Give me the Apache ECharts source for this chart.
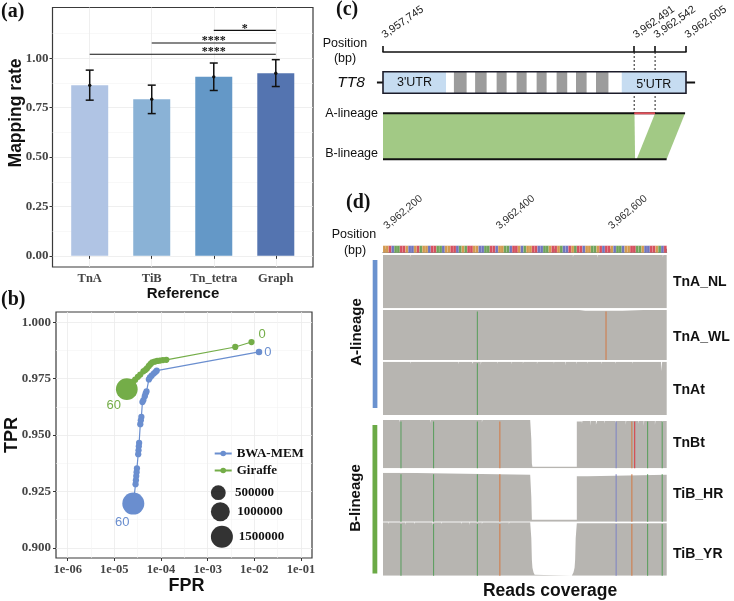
<!DOCTYPE html>
<html><head><meta charset="utf-8">
<script src="https://cdn.jsdelivr.net/npm/echarts@6/dist/echarts.min.js"></script>
<style>html,body{margin:0;padding:0;background:#fff}#c{width:734px;height:601px}</style>
</head><body><div id="c"></div>
<script>
// ================= DATA =================
// (a) mapping rate
const refCategories = ['TnA', 'TiB', 'Tn_tetra', 'Graph'];
const mappingMean = [0.863, 0.793, 0.906, 0.924];
const mappingLow  = [0.788, 0.720, 0.837, 0.857];
const mappingHigh = [0.940, 0.864, 0.976, 0.993];
const sigStart  = ['Tn_tetra', 'TiB', 'TnA'];
const sigEnd    = ['Graph', 'Graph', 'Graph'];
const sigY      = [1.141, 1.077, 1.020];
const sigLabel  = ['*', '****', '****'];
const sigLabelX = [3.5, 3.0, 3.0];
const mapYTicks = [0, 0.25, 0.5, 0.75, 1.0];
const mapYMinor = [0.125, 0.375, 0.625, 0.875, 1.125];

// (b) ROC by MAPQ threshold
const bwaFPR = [1.26e-2, 8.1e-5, 7.6e-5, 7.0e-5, 6.3e-5, 5.8e-5, 5.5e-5, 4.9e-5, 4.7e-5, 4.5e-5, 4.2e-5, 4.0e-5,
                3.8e-5, 3.7e-5, 3.6e-5, 3.4e-5, 3.35e-5, 3.3e-5, 3.25e-5, 3.05e-5, 3.0e-5, 2.95e-5, 2.9e-5, 2.85e-5, 2.55e-5];
const bwaTPR = [0.9868, 0.9785, 0.9779, 0.9772, 0.9763, 0.9755, 0.9746, 0.9693, 0.9685, 0.9672, 0.9655, 0.9646,
                0.9580, 0.9565, 0.9548, 0.9465, 0.9450, 0.9432, 0.9415, 0.9352, 0.9335, 0.9318, 0.9300, 0.9282, 0.9196];
const bwaCount = [12000, 8000, 8000, 8000, 8000, 8000, 8000, 8000, 8000, 8000, 8000, 8000,
                  8000, 8000, 8000, 8000, 8000, 8000, 8000, 8000, 8000, 8000, 8000, 8000, 1500000];
const girFPR = [8.7e-3, 3.9e-3, 1.3e-4, 1.1e-4, 9.5e-5, 8.3e-5, 7.3e-5, 6.5e-5, 6.0e-5, 5.5e-5, 5.0e-5, 4.6e-5,
                4.2e-5, 3.6e-5, 3.2e-5, 2.8e-5, 2.5e-5, 2.2e-5, 1.85e-5];
const girTPR = [0.9912, 0.9890, 0.9833, 0.9832, 0.9830, 0.9828, 0.9825, 0.9822, 0.9815, 0.9806, 0.9795, 0.9788,
                0.9782, 0.9768, 0.9758, 0.9745, 0.9735, 0.9722, 0.9703];
const girCount = [8000, 8000, 8000, 8000, 8000, 8000, 8000, 8000, 8000, 8000, 8000, 8000,
                  8000, 8000, 8000, 8000, 8000, 8000, 1450000];
const mapqLabels = ['0', '60'];
const fprTicksLog = [-6, -5, -4, -3, -2, -1];
const fprMinorLog = [-5.5, -4.5, -3.5, -2.5, -1.5];
const tprTicks = [0.900, 0.925, 0.950, 0.975, 1.000];
const tprMinor = [0.9125, 0.9375, 0.9625, 0.9875];
const sizeLegendValues = [500000, 1000000, 1500000];

// (c) TT8 schematic (schematic units 0..100 along the gene)
const cRulerPos = [0, 82.9, 89.8, 100];
const cRulerLabels = ['3,957,745', '3,962,491', '3,962,542', '3,962,605'];
const cGeneFlank = [-2, 103];
const cGeneBody = [0, 100];
const cUtrStart = [0, 78.8];
const cUtrEnd = [20.8, 100];
const cUtrNames = ["3'UTR", "5'UTR"];
const cExonStart = [23.4, 30.4, 37.5, 44.1, 50.7, 57.3, 63.7, 70.3];
const cExonEnd   = [27.6, 34.2, 40.8, 47.4, 54.0, 60.8, 67.2, 74.4];
const cLineageNames = ['A-lineage', 'B-lineage'];
const cLineageEnd = [99.7, 93.6];
const cBlockAStart = [0, 89.8];
const cBlockAEnd   = [83.0, 99.7];
const cBlockBStart = [0, 83.7];
const cBlockBEnd   = [83.2, 93.6];
const cDeletion = [82.9, 89.8];

// (d) read coverage
const dMin = 3962196, dMax = 3962701;
const dTicks = [3962200, 3962300, 3962400, 3962500, 3962600, 3962700];
const dLabelTicks = [3962200, 3962400, 3962600];
const dSeqStart = 3962196, dSeqCell = 5;
const dSeq = 'GGTCAATTGC' + 'CGTAGGCTTA' + 'ACGGTTCAGA' + 'TTGGCCAATT' + 'CGGAACTTGC' +
             'AGGTTCCAAG' + 'TTGACCTGAT' + 'TCGGAAGTCT' + 'TGCAACGGTT' + 'AAGCCTTGAC' + 'T';
const trackNames = ['TnA_NL', 'TnA_WL', 'TnAt', 'TnBt', 'TiB_HR', 'TiB_YR'];
const covTnA_NL = [[3962196,100],[3962244,96],[3962245,100],[3962333,97],[3962334,100],[3962445,97],[3962446,100],
  [3962534,96],[3962535,100],[3962577,95],[3962578,100],[3962694,96],[3962695,100],[3962701,100]];
const covTnA_WL = [[3962196,100],[3962226,97],[3962227,100],[3962252,96],[3962253,100],[3962283,97],[3962284,100],
  [3962330,96],[3962331,100],[3962402,97],[3962403,100],[3962442,96],[3962443,100],[3962503,97],[3962504,100],
  [3962545,98.5],[3962556,96],[3962557,98.5],[3962580,96],[3962581,98.5],[3962600,96],[3962601,98.5],[3962622,100],
  [3962660,96],[3962661,100],[3962701,100]];
const covTnAt = [[3962196,100],[3962215,97],[3962216,100],[3962245,96],[3962246,100],[3962290,97],[3962291,100],
  [3962330,95],[3962331,100],[3962355,96],[3962357,100],[3962370,94],[3962371,100],[3962400,96],[3962401,100],
  [3962425,95],[3962426,100],[3962445,96],[3962446,100],[3962470,95],[3962471,100],[3962500,96],[3962501,100],
  [3962520,93],[3962521,100],[3962540,95],[3962541,100],[3962560,96],[3962561,100],[3962585,95],[3962586,100],
  [3962610,96],[3962611,100],[3962640,96],[3962641,100],[3962691,82],[3962693,100],[3962701,100]];
const covTnBt = [[3962196,100],[3962210,96],[3962211,100],[3962225,95],[3962226,100],[3962262,97],[3962263,100],
  [3962280,94],[3962281,100],[3962300,96],[3962302,100],[3962330,97],[3962331,100],[3962372,95],[3962373,100],
  [3962392,96],[3962393,100],[3962420,97],[3962421,100],[3962440,96],[3962441,100],[3962458,97],[3962460,60],
  [3962461,10],[3962462,3],[3962541,97],[3962550,92],[3962551,98],[3962565,88],[3962566,98],[3962575,90],
  [3962577,98],[3962590,93],[3962591,98],[3962610,92],[3962611,98],[3962628,90],[3962629,98],[3962650,92],
  [3962651,98],[3962660,88],[3962661,98],[3962680,90],[3962681,98],[3962693,86],[3962694,98],[3962701,98]];
const covTiB_HR = [[3962196,100],[3962226,96],[3962458,96],[3962460,50],[3962461,4],[3962541,93],[3962560,96],[3962701,96]];
const covTiB_YR = [[3962196,100],[3962205,96],[3962206,100],[3962218,97],[3962219,100],[3962236,95],[3962237,100],
  [3962252,96],[3962253,100],[3962270,97],[3962271,100],[3962284,94],[3962285,100],[3962300,96],[3962301,100],
  [3962318,97],[3962319,100],[3962335,96],[3962336,100],[3962350,95],[3962351,100],[3962372,96],[3962373,100],
  [3962395,97],[3962396,100],[3962420,96],[3962421,100],[3962440,97],[3962441,100],[3962458,100],[3962460,70],
  [3962461,30],[3962462,15],[3962464,6],[3962466,2],[3962469,0],[3962532,2],[3962535,6],[3962537,15],[3962538,30],
  [3962539,70],[3962541,98],[3962552,95],[3962553,98],[3962575,96],[3962576,98],[3962600,95],[3962601,98],
  [3962625,96],[3962626,98],[3962650,95],[3962651,98],[3962675,96],[3962676,98],[3962701,98]];
const snpTnA_NL = [];
const snpTnA_WL = [[3962364,'A'],[3962593,'G']];
const snpTnAt = [[3962364,'A']];
const snpTnBt = [[3962228,'A'],[3962286,'A'],[3962364,'A'],[3962404,'G'],[3962611,'C'],[3962639,'G'],[3962644,'T'],[3962667,'A'],[3962693,'A']];
const snpTiB_HR = [[3962228,'A'],[3962286,'A'],[3962364,'A'],[3962404,'G'],[3962611,'C'],[3962639,'G'],[3962667,'A'],[3962693,'A']];
const snpTiB_YR = [[3962228,'A'],[3962286,'A'],[3962364,'A'],[3962404,'G'],[3962611,'C'],[3962639,'G'],[3962667,'A'],[3962693,'A']];

// ================= STYLE / LAYOUT =================
const SANS = "'Liberation Sans', Arial, sans-serif";
const SERIF = "'Liberation Serif', 'Times New Roman', serif";
const barColors = ['#B0C4E4', '#8AB2D6', '#6498C7', '#5474B0'];
const bwaColor = '#6A8ECF', girColor = '#74AD48';
const baseColors = { A: '#5F9F62', C: '#8286C2', G: '#D07E4C', T: '#D8434A' };
const seqColors = { A: '#6FA35A', C: '#7075BE', G: '#D39A50', T: '#D5505F' };
const covColor = '#B7B5B1';
const sizeOf = n => 5 + 17 * Math.sqrt(n / 1.5e6);
const coverages = [covTnA_NL, covTnA_WL, covTnAt, covTnBt, covTiB_HR, covTiB_YR];
const snps = [snpTnA_NL, snpTnA_WL, snpTnAt, snpTnBt, snpTiB_HR, snpTiB_YR];
const trackBoxes = [[255, 53.3], [310, 50], [361.7, 53.3], [420, 48.3], [472.7, 49], [522.3, 53.4]];
const commas = v => Math.round(v).toLocaleString('en-US');

function txt(x, y, text, font, opts) {
  opts = opts || {};
  const al = opts.align || 'left', va = opts.va || 'middle';
  return {
    type: 'text', x: x, y: y, rotation: opts.rot || 0, z: 100,
    style: { text: text, font: font, fill: opts.color || '#111',
      textAlign: al, align: al, textVerticalAlign: va, verticalAlign: va }
  };
}
function tx(x, y, text, font, color, al, va) {
  al = al || 'center'; va = va || 'middle';
  return { type: 'text', x: x, y: y, style: { text: text, font: font, fill: color, textAlign: al, align: al, textVerticalAlign: va, verticalAlign: va } };
}

// ================= GRIDS & AXES =================
const grids = [
  { left: 52.5, top: 7.5, width: 260.5, height: 259.5, show: true, borderColor: '#3a3a3a', borderWidth: 1.2 },
  { left: 56, top: 312, width: 256, height: 246, show: true, borderColor: '#3a3a3a', borderWidth: 1.2 },
  { left: 383, top: 52, width: 303, height: 107.3 },
  { left: 383, top: 245.7, width: 283.7, height: 7 }
];
trackBoxes.forEach(b => grids.push({ left: 383, top: b[0], width: 283.7, height: b[1] }));

const tickLbl = { fontFamily: SERIF, fontWeight: 'bold', fontSize: 13, color: '#454545' };
const xAxes = [
  { gridIndex: 0, type: 'value', min: 0.4, max: 4.6,
    axisLine: { show: false },
    axisTick: { show: true, customValues: [1, 2, 3, 4], length: 3, lineStyle: { color: '#333' } },
    axisLabel: { customValues: [1, 2, 3, 4], margin: 5, fontSize: 12.5, formatter: v => refCategories[Math.round(v) - 1],
      fontFamily: SERIF, fontWeight: 'bold', color: '#454545' },
    splitLine: { show: true, lineStyle: { color: '#EBEBEB', width: 0.8 } } },
  { gridIndex: 1, type: 'value', min: -6.25, max: -0.764,
    axisLine: { show: false },
    axisTick: { show: true, customValues: fprTicksLog, length: 3, lineStyle: { color: '#333' } },
    axisLabel: Object.assign({}, tickLbl, { customValues: fprTicksLog, margin: 5, fontSize: 12.5, formatter: v => '1e-0' + Math.round(-v) }),
    splitLine: { show: true, lineStyle: { color: '#EBEBEB', width: 0.8 } } },
  { gridIndex: 1, type: 'value', min: -6.25, max: -0.764,
    axisLine: { show: false }, axisLabel: { show: false },
    axisTick: { show: false, customValues: fprMinorLog },
    splitLine: { show: true, lineStyle: { color: '#F4F4F4', width: 0.6 } } },
  { gridIndex: 2, type: 'value', min: 0, max: 100, position: 'top',
    axisLine: { show: true, lineStyle: { color: '#111', width: 1.6 } },
    axisTick: { show: true, customValues: cRulerPos, length: 6, lineStyle: { color: '#111', width: 1.6 } },
    axisLabel: { customValues: cRulerPos, rotate: 35, margin: 16, fontFamily: SANS, fontSize: 10.8, color: '#222',
      formatter: v => cRulerLabels[cRulerPos.indexOf(v)] },
    splitLine: { show: false } },
  { gridIndex: 3, type: 'value', min: dMin, max: dMax, position: 'top', offset: 7.4,
    axisLine: { show: true, lineStyle: { color: '#666', width: 1 } },
    axisTick: { show: true, customValues: dTicks, length: 4, lineStyle: { color: '#666', width: 1 } },
    axisLabel: { customValues: dLabelTicks, rotate: 40, margin: 11, fontFamily: SANS, fontSize: 10.5, color: '#333', formatter: commas },
    splitLine: { show: false } }
];
trackBoxes.forEach((b, i) => xAxes.push({ gridIndex: 4 + i, type: 'value', min: dMin, max: dMax, show: false }));

const yAxes = [
  { gridIndex: 0, type: 'value', min: -0.0565, max: 1.257,
    axisLine: { show: false },
    axisTick: { show: true, customValues: mapYTicks, length: 3, lineStyle: { color: '#333' } },
    axisLabel: Object.assign({}, tickLbl, { customValues: mapYTicks, margin: 4, formatter: v => v.toFixed(2) }),
    splitLine: { show: true, lineStyle: { color: '#EBEBEB', width: 0.8 } } },
  { gridIndex: 0, type: 'value', min: -0.0565, max: 1.257, position: 'left',
    axisLine: { show: false }, axisLabel: { show: false },
    axisTick: { show: false, customValues: mapYMinor },
    splitLine: { show: true, lineStyle: { color: '#F4F4F4', width: 0.6 } } },
  { gridIndex: 1, type: 'value', min: 0.8955, max: 1.0045,
    axisLine: { show: false },
    axisTick: { show: true, customValues: tprTicks, length: 3, lineStyle: { color: '#333' } },
    axisLabel: Object.assign({}, tickLbl, { customValues: tprTicks, margin: 5, formatter: v => v.toFixed(3) }),
    splitLine: { show: true, lineStyle: { color: '#EBEBEB', width: 0.8 } } },
  { gridIndex: 1, type: 'value', min: 0.8955, max: 1.0045, position: 'left',
    axisLine: { show: false }, axisLabel: { show: false },
    axisTick: { show: false, customValues: tprMinor },
    splitLine: { show: true, lineStyle: { color: '#F4F4F4', width: 0.6 } } },
  { gridIndex: 2, type: 'value', min: 0, max: 1, inverse: true, show: false },
  { gridIndex: 3, type: 'value', min: 0, max: 1, show: false }
];
trackBoxes.forEach((b, i) => yAxes.push({ gridIndex: 4 + i, type: 'value', min: 0, max: 100, show: false }));

// ================= SERIES =================
const series = [];
// (a) bars
series.push({
  type: 'bar', xAxisIndex: 0, yAxisIndex: 0, barWidth: 37, z: 2,
  data: mappingMean.map((v, i) => ({ value: [i + 1, v], itemStyle: { color: barColors[i] } }))
});
// (a) error bars
series.push({
  type: 'custom', xAxisIndex: 0, yAxisIndex: 0, z: 5,
  data: mappingMean.map((v, i) => [i + 1, mappingLow[i], mappingHigh[i], v]),
  renderItem: (params, api) => {
    const x = api.value(0);
    const lo = api.coord([x, api.value(1)]), hi = api.coord([x, api.value(2)]), m = api.coord([x, api.value(3)]);
    const cap = 4, st = { stroke: '#111', lineWidth: 1.5 };
    return { type: 'group', children: [
      { type: 'line', shape: { x1: lo[0], y1: lo[1], x2: hi[0], y2: hi[1] }, style: st },
      { type: 'line', shape: { x1: lo[0] - cap, y1: lo[1], x2: lo[0] + cap, y2: lo[1] }, style: st },
      { type: 'line', shape: { x1: hi[0] - cap, y1: hi[1], x2: hi[0] + cap, y2: hi[1] }, style: st },
      { type: 'circle', shape: { cx: m[0], cy: m[1], r: 1.7 }, style: { fill: '#111' } }
    ] };
  }
});
// (a) significance brackets
series.push({
  type: 'custom', xAxisIndex: 0, yAxisIndex: 0, z: 6,
  data: sigY.map((y, i) => [refCategories.indexOf(sigStart[i]) + 1, refCategories.indexOf(sigEnd[i]) + 1, y, sigLabelX[i]]),
  renderItem: (params, api) => {
    const y = api.value(2);
    const p1 = api.coord([api.value(0), y]), p2 = api.coord([api.value(1), y]), pt = api.coord([api.value(3), y]);
    return { type: 'group', children: [
      { type: 'line', shape: { x1: p1[0], y1: p1[1], x2: p2[0], y2: p2[1] }, style: { stroke: '#111', lineWidth: 1.1 } },
      tx(pt[0], pt[1] + 4, sigLabel[params.dataIndex], 'bold 12px ' + SERIF, '#111', 'center', 'bottom')
    ] };
  }
});
// (b) ROC lines
function rocData(fpr, tpr, cnt, color, lab0, lab60) {
  return fpr.map((f, i) => {
    const item = { value: [Math.log10(f), tpr[i], cnt[i]] };
    if (i === 0) item.label = Object.assign({ show: true, formatter: mapqLabels[0], color: color, fontFamily: SANS, fontSize: 13 }, lab0);
    if (i === fpr.length - 1) item.label = Object.assign({ show: true, formatter: mapqLabels[1], color: color, fontFamily: SANS, fontSize: 13 }, lab60);
    return item;
  });
}
series.push({
  type: 'line', name: 'BWA-MEM', xAxisIndex: 1, yAxisIndex: 2, z: 4,
  symbol: 'circle', showAllSymbol: true, symbolSize: v => sizeOf(v[2]),
  itemStyle: { color: bwaColor }, lineStyle: { color: bwaColor, width: 1.2 },
  data: rocData(bwaFPR, bwaTPR, bwaCount, bwaColor,
    { position: 'right', distance: 2 }, { position: 'bottom', distance: 3, offset: [-11, -2] })
});
series.push({
  type: 'line', name: 'Giraffe', xAxisIndex: 1, yAxisIndex: 2, z: 4,
  symbol: 'circle', showAllSymbol: true, symbolSize: v => sizeOf(v[2]),
  itemStyle: { color: girColor }, lineStyle: { color: girColor, width: 1.2 },
  data: rocData(girFPR, girTPR, girCount, girColor,
    { position: 'right', distance: 4, offset: [0, -8] }, { position: 'bottom', distance: 3, offset: [-13, -4] })
});
sizeLegendValues.forEach(v => series.push({ type: 'scatter', name: String(v), xAxisIndex: 1, yAxisIndex: 2, data: [], itemStyle: { color: '#000' } }));

// (c) schematic
const yBoxTop = 0.184, yBoxBot = 0.385, yBoxMid = 0.2845, yA = 0.571, yB = 1.0;
series.push({ type: 'custom', xAxisIndex: 3, yAxisIndex: 4, z: 1, data: [cGeneFlank],
  renderItem: (p, api) => { const a = api.coord([api.value(0), yBoxMid]), b = api.coord([api.value(1), yBoxMid]);
    return { type: 'line', shape: { x1: a[0], y1: a[1], x2: b[0], y2: b[1] }, style: { stroke: '#111', lineWidth: 2 } }; } });
series.push({ type: 'custom', xAxisIndex: 3, yAxisIndex: 4, z: 2, data: [cGeneBody],
  renderItem: (p, api) => { const a = api.coord([api.value(0), yBoxTop]), b = api.coord([api.value(1), yBoxBot]);
    return { type: 'rect', shape: { x: a[0], y: a[1], width: b[0] - a[0], height: b[1] - a[1] }, style: { fill: '#fff' } }; } });
series.push({ type: 'custom', xAxisIndex: 3, yAxisIndex: 4, z: 3, data: cUtrStart.map((s, i) => [s, cUtrEnd[i]]),
  renderItem: (p, api) => { const a = api.coord([api.value(0), yBoxTop]), b = api.coord([api.value(1), yBoxBot]);
    return { type: 'group', children: [
      { type: 'rect', shape: { x: a[0], y: a[1], width: b[0] - a[0], height: b[1] - a[1] }, style: { fill: '#C6DCF1' } },
      tx((a[0] + b[0]) / 2, (a[1] + b[1]) / 2 + (p.dataIndex ? 2 : 0), cUtrNames[p.dataIndex], '12.5px ' + SANS, '#111')
    ] }; } });
series.push({ type: 'custom', xAxisIndex: 3, yAxisIndex: 4, z: 3, data: cExonStart.map((s, i) => [s, cExonEnd[i]]),
  renderItem: (p, api) => { const a = api.coord([api.value(0), yBoxTop]), b = api.coord([api.value(1), yBoxBot]);
    return { type: 'rect', shape: { x: a[0], y: a[1], width: b[0] - a[0], height: b[1] - a[1] }, style: { fill: '#9C9C9C' } }; } });
series.push({ type: 'custom', xAxisIndex: 3, yAxisIndex: 4, z: 4, data: [cGeneBody],
  renderItem: (p, api) => { const a = api.coord([api.value(0), yBoxTop]), b = api.coord([api.value(1), yBoxBot]);
    return { type: 'rect', shape: { x: a[0], y: a[1], width: b[0] - a[0], height: b[1] - a[1] }, style: { fill: 'none', stroke: '#1c1c2a', lineWidth: 1.6 } }; } });
series.push({ type: 'custom', xAxisIndex: 3, yAxisIndex: 4, z: 2, data: cBlockAStart.map((s, i) => [s, cBlockAEnd[i], cBlockBStart[i], cBlockBEnd[i]]),
  renderItem: (p, api) => {
    const pts = [api.coord([api.value(0), yA]), api.coord([api.value(1), yA]), api.coord([api.value(3), yB]), api.coord([api.value(2), yB])];
    return { type: 'polygon', shape: { points: pts }, style: { fill: '#A2C985' } }; } });
series.push({ type: 'custom', xAxisIndex: 3, yAxisIndex: 4, z: 3, data: cLineageEnd.map((e, i) => [0, e, i]),
  renderItem: (p, api) => { const y = api.value(2) ? yB : yA; const a = api.coord([api.value(0), y]), b = api.coord([api.value(1), y]);
    return { type: 'line', shape: { x1: a[0], y1: a[1], x2: b[0], y2: b[1] }, style: { stroke: '#111', lineWidth: 2 } }; } });
series.push({ type: 'custom', xAxisIndex: 3, yAxisIndex: 4, z: 4, data: [cDeletion],
  renderItem: (p, api) => { const a = api.coord([api.value(0), yA]), b = api.coord([api.value(1), yA]);
    return { type: 'line', shape: { x1: a[0], y1: a[1], x2: b[0], y2: b[1] }, style: { stroke: '#E0505A', lineWidth: 2 } }; } });
series.push({ type: 'custom', xAxisIndex: 3, yAxisIndex: 4, z: 1, data: cDeletion.map(v => [v]),
  renderItem: (p, api) => { const a = api.coord([api.value(0), 0]), b = api.coord([api.value(0), yA]);
    return { type: 'line', shape: { x1: a[0], y1: a[1], x2: b[0], y2: b[1] }, style: { stroke: '#222', lineWidth: 1, lineDash: [2, 2] } }; } });

// (d) sequence strip
series.push({ type: 'custom', xAxisIndex: 4, yAxisIndex: 5, z: 2, data: dSeq.split('').map((b, i) => [i]),
  renderItem: (p, api) => {
    const s = dSeqStart + api.value(0) * dSeqCell;
    const a = api.coord([s, 1]), b = api.coord([Math.min(s + dSeqCell, dMax), 0]);
    return { type: 'rect', shape: { x: a[0], y: a[1], width: b[0] - a[0], height: b[1] - a[1] },
      style: { fill: seqColors[dSeq[p.dataIndex]], stroke: 'rgba(255,255,255,0.35)', lineWidth: 0.3 } };
  } });
// (d) coverage tracks
coverages.forEach((cov, i) => {
  series.push({ type: 'line', xAxisIndex: 5 + i, yAxisIndex: 6 + i, step: 'end', symbol: 'none', silent: true, z: 2,
    lineStyle: { width: 0 }, areaStyle: { color: covColor, opacity: 1 }, data: cov });
  series.push({ type: 'custom', xAxisIndex: 5 + i, yAxisIndex: 6 + i, z: 3, data: snps[i].map(s => [s[0]]),
    renderItem: (p, api) => { const a = api.coord([api.value(0), 0]), b = api.coord([api.value(0), 97]);
      return { type: 'line', shape: { x1: a[0], y1: a[1], x2: b[0], y2: b[1] },
        style: { stroke: baseColors[snps[i][p.dataIndex][1]], lineWidth: 1.1 } }; } });
});

// ================= LEGENDS =================
const legendText = { fontFamily: SERIF, fontWeight: 'bold', fontSize: 13, color: '#111' };
const legends = [
  { data: ['BWA-MEM', 'Giraffe'], orient: 'vertical', left: 213.7, top: 447, itemWidth: 17, itemHeight: 7, itemGap: 4,
    padding: 0, selectedMode: false, textStyle: legendText }
];
const sizeCenters = [492.7, 511.7, 536.7];
sizeLegendValues.forEach((v, k) => {
  const d = sizeOf(v);
  legends.push({ data: [String(v)], left: 210.9, top: sizeCenters[k] - d / 2, itemWidth: 23.6, itemHeight: d, icon: 'circle',
    padding: 0, selectedMode: false, textStyle: legendText });
});

// ================= TEXT / DECORATION =================
const graphics = [
  txt(1, 12, '(a)', 'bold 20px ' + SERIF),
  txt(1, 300, '(b)', 'bold 20px ' + SERIF),
  txt(336, 10, '(c)', 'bold 20px ' + SERIF),
  txt(346, 203, '(d)', 'bold 20px ' + SERIF),
  txt(16, 113, 'Mapping rate', 'bold 17.5px ' + SANS, { align: 'center', rot: Math.PI / 2 }),
  txt(183, 293.5, 'Reference', 'bold 15px ' + SANS, { align: 'center' }),
  txt(12, 435, 'TPR', 'bold 18px ' + SANS, { align: 'center', rot: Math.PI / 2 }),
  txt(186.5, 586, 'FPR', 'bold 18px ' + SANS, { align: 'center' }),
  txt(345, 43.5, 'Position', '12.5px ' + SANS, { align: 'center' }),
  txt(345, 58.5, '(bp)', '12.5px ' + SANS, { align: 'center' }),
  txt(351, 83, 'TT8', 'italic 15.5px ' + SANS, { align: 'center' }),
  txt(378, 114, cLineageNames[0], '12.5px ' + SANS, { align: 'right' }),
  txt(378, 153.5, cLineageNames[1], '12.5px ' + SANS, { align: 'right' }),
  txt(354, 235, 'Position', '12.5px ' + SANS, { align: 'center' }),
  txt(355, 251, '(bp)', '12.5px ' + SANS, { align: 'center' }),
  txt(356.7, 332, 'A-lineage', 'bold 15px ' + SANS, { align: 'center', rot: Math.PI / 2 }),
  txt(355.5, 498, 'B-lineage', 'bold 15px ' + SANS, { align: 'center', rot: Math.PI / 2 }),
  txt(550, 591, 'Reads coverage', 'bold 17.5px ' + SANS, { align: 'center' }),
  { type: 'rect', shape: { x: 372.7, y: 260, width: 4.7, height: 148 }, style: { fill: '#6A92CF' } },
  { type: 'rect', shape: { x: 372.5, y: 425, width: 4.8, height: 148.5 }, style: { fill: '#6BAA46' } }
];
const trackLabelY = [281.7, 336.7, 390, 443.3, 494.3, 554];
trackNames.forEach((n, i) => graphics.push(txt(673, trackLabelY[i], n, 'bold 14px ' + SANS)));

const chart = echarts.init(document.getElementById('c'), null, { renderer: 'canvas' });
chart.setOption({
  animation: false,
  backgroundColor: '#fff',
  grid: grids, xAxis: xAxes, yAxis: yAxes, series: series, legend: legends,
  graphic: { elements: graphics }
});
</script></body></html>
